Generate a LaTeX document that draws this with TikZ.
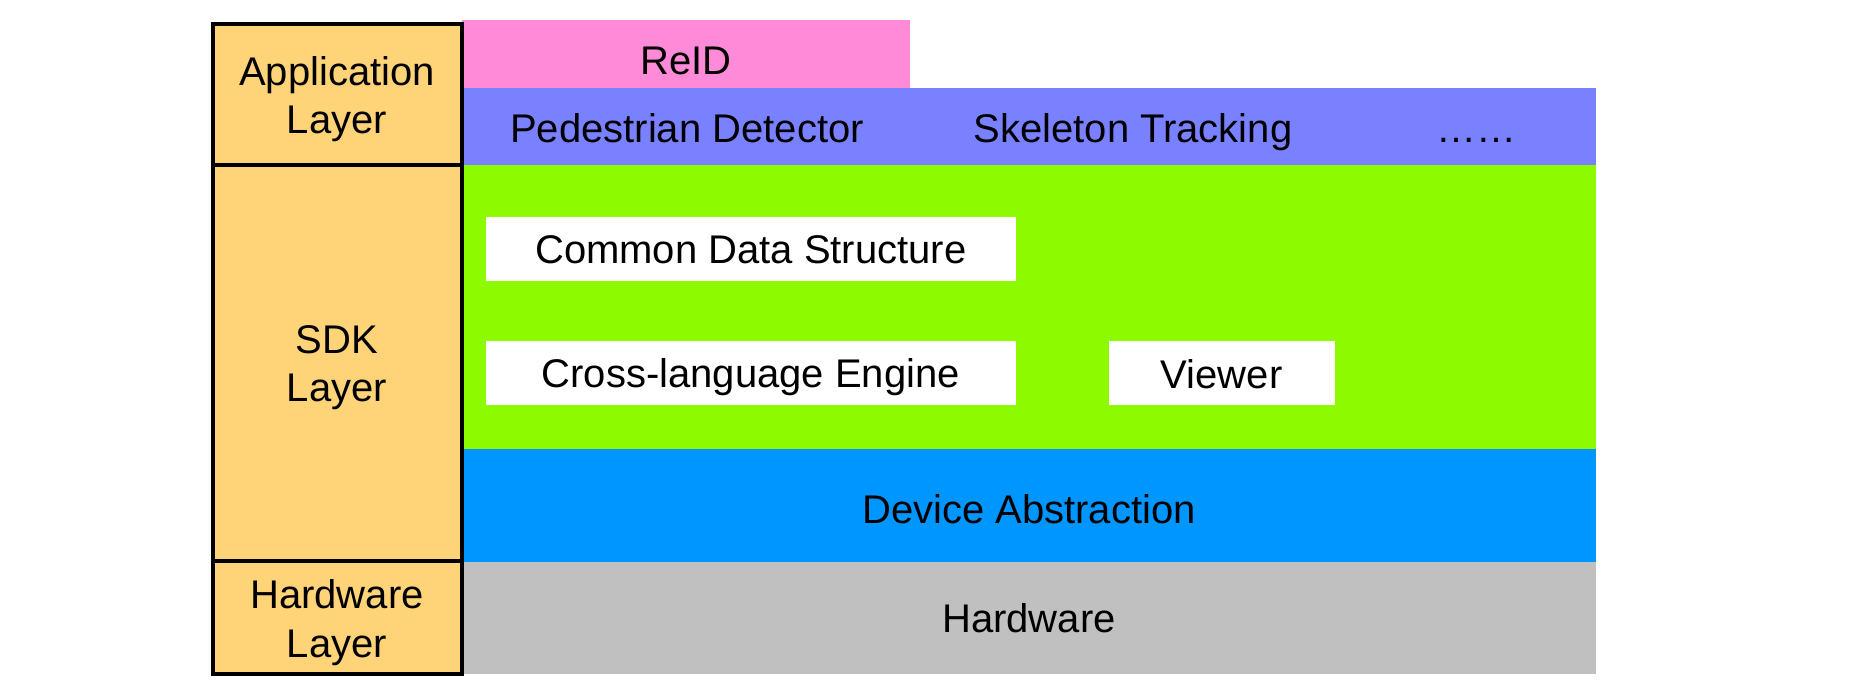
\documentclass[tikz,border=0pt]{standalone}
\usepackage{fontspec}
\setmainfont{Liberation Sans}
\definecolor{cantaloupe}{HTML}{FFD479}
\definecolor{carnation}{HTML}{FF8AD8}
\definecolor{orchid}{HTML}{7A81FF}
\definecolor{limeg}{HTML}{8EFA00}
\definecolor{aqua}{HTML}{0096FF}
\definecolor{silverg}{HTML}{C0C0C0}
\begin{document}
\begin{tikzpicture}[x=0.5pt,y=-0.5pt,
  region/.style={fill=#1,draw=none},
  layerbox/.style={fill=cantaloupe,draw=black,line width=2.1pt},
  whitebox/.style={fill=white,draw=none},
  lbl/.style={anchor=base,inner sep=0pt,font=\fontsize{20}{24.25}\selectfont,align=center}]
\useasboundingbox (0,0) rectangle (1857,700);
% coloured regions
\path[region=carnation] (462,20) rectangle (910,88);
\path[region=orchid] (462,88) rectangle (1596,165);
\path[region=limeg] (462,165) rectangle (1596,449);
\path[region=aqua] (462,449) rectangle (1596,562);
\path[region=silverg] (462,562) rectangle (1596,674);
% white boxes in SDK
\path[whitebox] (485.5,216.7) rectangle (1016,280.7);
\path[whitebox] (485.5,341) rectangle (1016,405);
\path[whitebox] (1108.5,341) rectangle (1334.7,405);
% left layer column
\path[layerbox] (212.7,23.7) rectangle (462,164.7);
\path[layerbox] (212.7,164.7) rectangle (462,561.3);
\path[layerbox] (212.7,561.3) rectangle (462,673.7);
% texts (base anchor = last line baseline)
\node[lbl] (applbl) at (337,134) {Application\\Layer};
\node[lbl] (sdklbl) at (337,401.7) {SDK\\Layer};
\node[lbl] (hwlbl) at (337,657.3) {Hardware\\Layer};
\node[lbl] (reid) at (686,75) {ReID};
\node[lbl] (ped) at (687,142.5) {Pedestrian Detector};
\node[lbl] (skel) at (1133,142.5) {Skeleton Tracking};
\node[lbl] (dots) at (1476,142.5) {……};
\node[lbl] (cds) at (750.8,263.5) {Common Data Structure};
\node[lbl] (cle) at (750.8,387.5) {Cross-language Engine};
\node[lbl] (viewer) at (1221.6,388) {Viewer};
\node[lbl] (devabs) at (1029,523.5) {Device Abstraction};
\node[lbl] (hw) at (1029,632.5) {Hardware};
\end{tikzpicture}
\end{document}
